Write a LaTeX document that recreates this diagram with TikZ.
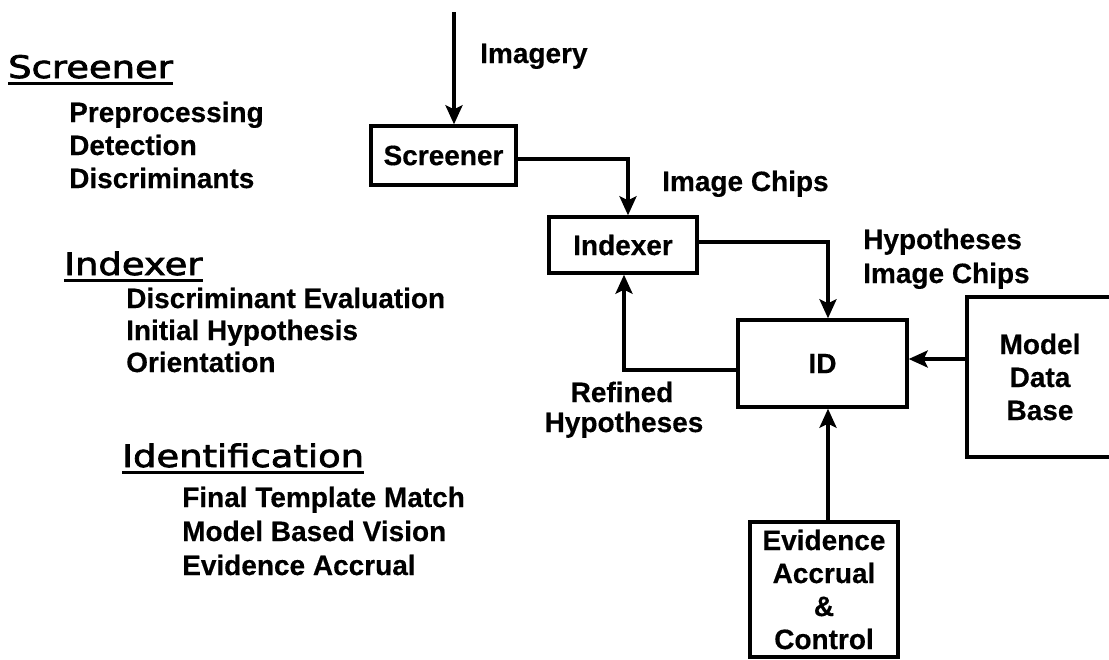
\documentclass[tikz,border=0pt]{standalone}
\usepackage{fontspec}
\setmainfont{Liberation Sans}[BoldFeatures={FakeBold=0.4}]
\newfontfamily\headfont{DejaVu Sans}[FakeStretch=1.19,FakeBold=2.5]
\usetikzlibrary{arrows.meta}
\begin{document}
\begin{tikzpicture}[x=1pt,y=-1pt,
  box/.style={draw, line width=3.4pt, inner sep=0pt, align=center, font=\bfseries\fontsize{28}{33}\selectfont},
  lbl/.style={inner sep=0pt, anchor=base west, font=\bfseries\fontsize{28}{33}\selectfont},
  clbl/.style={inner sep=0pt, anchor=base, font=\bfseries\fontsize{28}{33}\selectfont},
  head/.style={inner sep=0pt, anchor=base west, font=\headfont\fontsize{31}{36}\selectfont},
  arr/.style={line width=3.2pt, -{Stealth[length=19pt,width=17pt,inset=4pt]}},
  uline/.style={line width=3.4pt}
]
\useasboundingbox (0,0) rectangle (1109,659);
\clip (0,0) rectangle (1109,659);
\fill[white] (0,0) rectangle (1109,659);

% boxes
\node[box, minimum width=145, minimum height=59] (scr) at (443.5,155.5) {Screener};
\node[box, minimum width=148, minimum height=56] (idx) at (623,245) {Indexer};
\node[box, minimum width=169, minimum height=87] (id) at (822.5,363.5) {ID};
\node[box, minimum width=146, minimum height=160] (mdb) at (1040,377) {Model\\Data\\Base};
\node[box, minimum width=148, minimum height=135] (ev) at (824,589.5) {Evidence\\Accrual\\\&\\Control};

% connectors
\coordinate (src) at (454,12);
\draw[arr] (src) -- (src |- scr.north);
\draw[arr] ([yshift=-3.5pt]scr.east) -| ([xshift=5pt]idx.north);
\draw[arr] ([yshift=3pt]idx.east) -| ([xshift=5.5pt]id.north);
\draw[arr] ([yshift=-6.5pt]id.west) -| ([xshift=1pt]idx.south);
\draw[arr] ([yshift=18pt]mdb.west) -- ([yshift=18pt]mdb.west -| id.east);
\draw[arr] ([xshift=4pt]ev.north) -- ([xshift=4pt]ev.north |- id.south);

% connector labels
\node[lbl] (limg) at (480,63) {Imagery};
\node[lbl] (lchips) at (662,191) {Image Chips};
\node[lbl] (lhyp) at (863,249) {Hypotheses};
\node[lbl] (lchips2) at (863,283) {Image Chips};
\node[clbl] (lref) at (622,402) {Refined};
\node[clbl] (lref2) at (624,432) {Hypotheses};

% left column
\node[head] (h1) at (8,78) {Screener};
\draw[uline] ([yshift=-5.5pt]h1.base west) -- ([yshift=-5.5pt]h1.base east);
\node[lbl] (s1) at (69,122) {Preprocessing};
\node[lbl] (s2) at (69,155) {Detection};
\node[lbl] (s3) at (69,188) {Discriminants};

\node[head] (h2) at (64,275) {Indexer};
\draw[uline] ([yshift=-5.5pt]h2.base west) -- ([yshift=-5.5pt]h2.base east);
\node[lbl] (i1) at (126,308) {Discriminant Evaluation};
\node[lbl] (i2) at (126,340) {Initial Hypothesis};
\node[lbl] (i3) at (126,372) {Orientation};

\node[head] (h3) at (122,467) {Identification};
\draw[uline] ([yshift=-5.5pt]h3.base west) -- ([yshift=-5.5pt]h3.base east);
\node[lbl] (d1) at (182,507) {Final Template Match};
\node[lbl] (d2) at (182,541) {Model Based Vision};
\node[lbl] (d3) at (182,575) {Evidence Accrual};
\end{tikzpicture}
\end{document}
